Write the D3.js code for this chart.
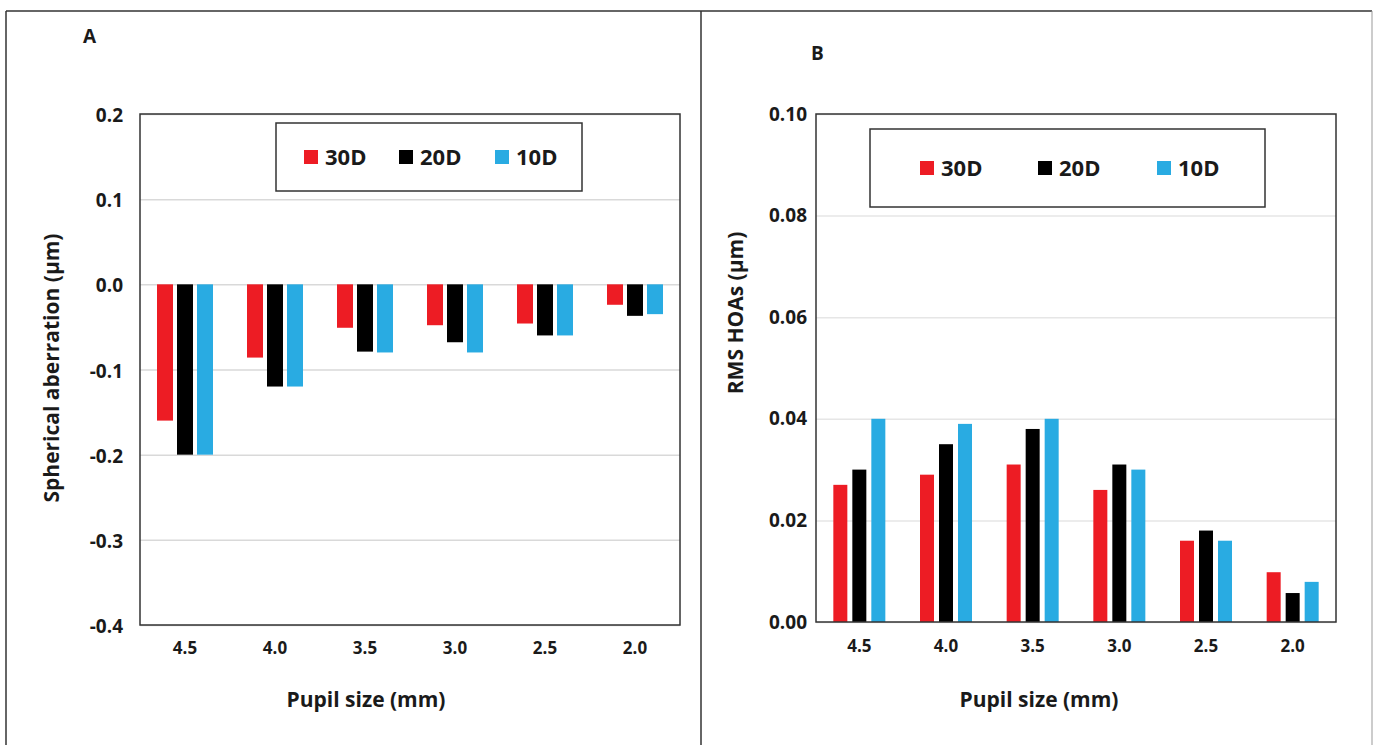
<!DOCTYPE html>
<html>
<head>
<meta charset="utf-8">
<script src="https://cdn.jsdelivr.net/npm/d3@7"></script>
<style>
  body { margin: 0; background: #fff; }
  text { font-family: "Open Sans", Lato, sans-serif; font-weight: bold; fill: #1a1a1a; }
</style>
</head>
<body>
<svg id="chart" width="1374" height="745"></svg>
<script>
// pupil sizes (mm) on the x axis
const pupilSizes = ['4.5', '4.0', '3.5', '3.0', '2.5', '2.0'];
const seriesNames = ['30D', '20D', '10D'];
const seriesColors = ['#ed1c24', '#000000', '#29abe2'];

// A: spherical aberration (µm)
const sa30D = [-0.16, -0.086, -0.051, -0.048, -0.046, -0.024];
const sa20D = [-0.20, -0.12, -0.079, -0.068, -0.06, -0.037];
const sa10D = [-0.20, -0.12, -0.08, -0.08, -0.06, -0.035];
const saTicks = [0.2, 0.1, 0.0, -0.1, -0.2, -0.3, -0.4];

// B: RMS HOAs (µm)
const rms30D = [0.027, 0.029, 0.031, 0.026, 0.016, 0.0098];
const rms20D = [0.030, 0.035, 0.038, 0.031, 0.018, 0.0057];
const rms10D = [0.040, 0.039, 0.040, 0.030, 0.016, 0.0079];
const rmsTicks = [0.00, 0.02, 0.04, 0.06, 0.08, 0.10];

const svg = d3.select('#chart');

// outer frame
svg.append('line').attr('x1', 6).attr('x2', 1372).attr('y1', 11).attr('y2', 11)
    .attr('stroke', '#333').attr('stroke-width', 1.5);
svg.append('line').attr('x1', 6).attr('x2', 6).attr('y1', 11).attr('y2', 745)
    .attr('stroke', '#333').attr('stroke-width', 1.5);
svg.append('line').attr('x1', 701).attr('x2', 701).attr('y1', 11).attr('y2', 745)
    .attr('stroke', '#333').attr('stroke-width', 1.5);
svg.append('line').attr('x1', 1372).attr('x2', 1372).attr('y1', 11).attr('y2', 745)
    .attr('stroke', '#999').attr('stroke-width', 1);

function drawPanel(cfg) {
    const g = svg.append('g');
    const x0 = d3.scaleBand().domain(pupilSizes).range([cfg.left, cfg.right]);
    const x1 = d3.scaleBand().domain(seriesNames).range([0, cfg.groupW]).paddingInner(cfg.pad);
    const y = d3.scaleLinear().domain(cfg.domain).range([cfg.bottom, cfg.top]);
    const fmt = d3.format(cfg.fmt);

    // grid
    g.append('g')
        .attr('transform', 'translate(' + cfg.left + ',0)')
        .call(d3.axisLeft(y).tickValues(cfg.ticks).tickSize(-(cfg.right - cfg.left)).tickFormat(''))
        .call(function(a){ a.select('.domain').remove(); })
        .selectAll('line').attr('stroke', cfg.gridColor).attr('stroke-width', 1.5);

    // bars
    const groups = g.selectAll('g.grp').data(pupilSizes).enter().append('g')
        .attr('transform', function(d){ return 'translate(' + (x0(d) + (x0.bandwidth() - cfg.groupW) / 2) + ',0)'; });
    groups.selectAll('rect')
        .data(function(d, i){ return seriesNames.map(function(s, j){ return {s: s, v: cfg.values[j][i], c: seriesColors[j]}; }); })
        .enter().append('rect')
        .attr('x', function(d){ return x1(d.s); })
        .attr('width', x1.bandwidth())
        .attr('y', function(d){ return Math.min(y(d.v), y(0)); })
        .attr('height', function(d){ return Math.abs(y(d.v) - y(0)); })
        .attr('fill', function(d){ return d.c; });

    // plot frame
    g.append('rect')
        .attr('x', cfg.left).attr('y', cfg.top)
        .attr('width', cfg.right - cfg.left).attr('height', cfg.bottom - cfg.top)
        .attr('fill', 'none').attr('stroke', '#333').attr('stroke-width', 1.5);

    // y axis labels (plain hyphen for negatives, like the original)
    const ya = g.append('g')
        .attr('transform', 'translate(' + cfg.left + ',0)')
        .call(d3.axisLeft(y).tickValues(cfg.ticks).tickSize(0).tickPadding(cfg.yPad)
            .tickFormat(function(d){ return fmt(d).replace('\u2212', '-'); }));
    ya.select('.domain').remove();
    ya.selectAll('text').attr('font-size', 19).attr('dy', cfg.yDy)
        .style('font-family', '"Open Sans", sans-serif').style('font-weight', 'bold').attr('fill', '#1a1a1a');

    // x axis labels
    const xa = g.append('g')
        .attr('transform', 'translate(0,' + cfg.bottom + ')')
        .call(d3.axisBottom(x0).tickSize(0));
    xa.select('.domain').remove();
    xa.selectAll('text').attr('font-size', 17).attr('y', cfg.xLabelY).attr('dy', 0)
        .style('font-family', '"Open Sans", sans-serif').style('font-weight', 'bold').attr('fill', '#1a1a1a');

    // titles
    g.append('text').attr('x', (cfg.left + cfg.right) / 2 + cfg.xTitleShift).attr('y', 707)
        .attr('text-anchor', 'middle').attr('font-size', 21).text('Pupil size (mm)');
    g.append('text')
        .attr('transform', 'translate(' + cfg.yTitleX + ',' + cfg.yTitleY + ') rotate(-90)')
        .attr('text-anchor', 'middle').attr('font-size', 21).text(cfg.yTitle);
    g.append('text').attr('x', cfg.letterX).attr('y', cfg.letterY)
        .attr('font-size', 19).text(cfg.letter);

    // legend
    g.append('rect')
        .attr('x', cfg.leg.x).attr('y', cfg.leg.y).attr('width', cfg.leg.w).attr('height', cfg.leg.h)
        .attr('fill', '#fff').attr('stroke', '#333').attr('stroke-width', 1.5);
    const items = g.selectAll('g.leg').data(seriesNames).enter().append('g')
        .attr('transform', function(d, i){ return 'translate(' + cfg.leg.items[i] + ',' + cfg.leg.iy + ')'; });
    items.append('rect').attr('x', 0).attr('y', 0).attr('width', 14).attr('height', 14)
        .attr('fill', function(d, i){ return seriesColors[i]; });
    items.append('text').attr('x', 21).attr('y', 15).attr('font-size', 22).text(function(d){ return d; });
}

drawPanel({
    left: 140, right: 680, top: 114, bottom: 625,
    domain: [-0.4, 0.2], ticks: saTicks, fmt: '.1f', yPad: 17, yDy: '0.4em',
    values: [sa30D, sa20D, sa10D],
    groupW: 56, pad: 0.2,
    gridColor: '#d9d9d9',
    xLabelY: 29, xTitleShift: -44,
    yTitle: 'Spherical aberration (\u00b5m)', yTitleX: 59, yTitleY: 368,
    letter: 'A', letterX: 83, letterY: 43,
    leg: {x: 276, y: 123, w: 306, h: 68, items: [304, 399, 495], iy: 150}
});

drawPanel({
    left: 816, right: 1336, top: 114, bottom: 622,
    domain: [0, 0.1], ticks: rmsTicks, fmt: '.2f', yPad: 9, yDy: '0.32em',
    values: [rms30D, rms20D, rms10D],
    groupW: 52, pad: 5 / 19,
    gridColor: '#e6e6e6',
    xLabelY: 30, xTitleShift: -37,
    yTitle: 'RMS HOAs (\u00b5m)', yTitleX: 743, yTitleY: 313,
    letter: 'B', letterX: 811, letterY: 60,
    leg: {x: 870, y: 129, w: 395, h: 78, items: [920, 1038, 1157], iy: 161}
});
</script>
</body>
</html>
